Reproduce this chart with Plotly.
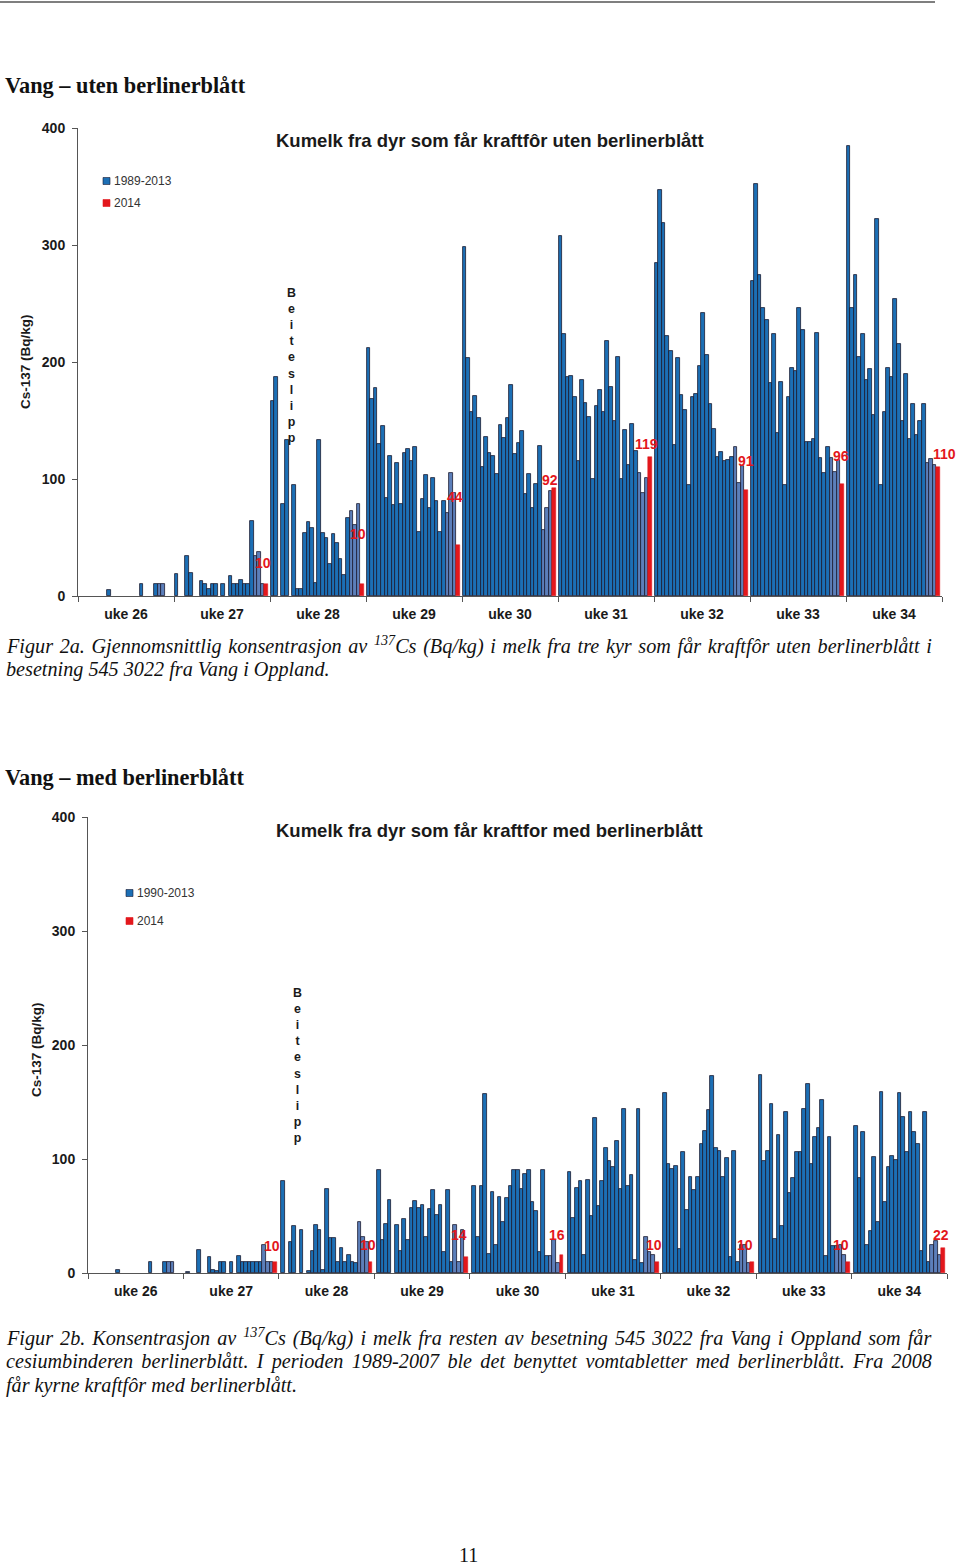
import plotly.graph_objects as go

N = None
weeks = ["uke 26", "uke 27", "uke 28", "uke 29", "uke 30", "uke 31", "uke 32", "uke 33", "uke 34"]

# ---- Chart A: uten berlinerblått, years 1989-2013 + 2014 (26 per week) ----
years_a = list(range(1989, 2014)) + [2014]
a_u26 = [N,N,N,N,N,N,N,N,5,N,N,N,N,N,N,N,N,10,N,N,N,10,10,10,N,N]
a_u27 = [19,N,N,34,20,N,N,13,10,6,10,10,N,10,N,17,10,10,14,10,10,64,34,38,10,10]
a_u28 = [167,187,N,79,133,N,95,6,6,54,63,58,11,133,54,50,27,53,45,32,18,67,73,61,79,10]
a_u29 = [212,168,178,130,145,84,120,78,114,79,122,126,115,127,55,83,103,75,101,81,55,81,71,105,88,44]
a_u30 = [298,203,157,171,152,110,136,122,120,104,146,135,152,180,121,131,141,87,104,75,96,128,56,75,90,92]
a_u31 = [308,224,187,188,170,115,185,165,153,100,162,176,157,218,179,150,204,100,142,112,147,124,105,88,101,119]
a_u32 = [285,347,319,222,209,129,203,172,159,95,170,173,197,242,206,164,143,119,123,115,116,119,127,97,111,91]
a_u33 = [269,352,274,246,236,182,224,139,183,95,170,195,192,246,227,132,132,134,225,118,105,127,118,106,116,96]
a_u34 = [385,246,274,204,224,185,194,155,322,95,157,195,187,254,215,150,190,134,164,138,150,164,114,117,112,110]
chart_a = [a_u26, a_u27, a_u28, a_u29, a_u30, a_u31, a_u32, a_u33, a_u34]
labels_a = ["10", "10", "44", "92", "119", "91", "96", "110"]          # 2014 labels, uke 27-34

# ---- Chart B: med berlinerblått, years 1990-2013 + 2014 (25 per week) ----
years_b = list(range(1990, 2014)) + [2014]
b_u26 = [N,N,N,N,N,N,N,3,N,N,N,N,N,N,N,N,10,N,N,N,10,10,10,N,N]
b_u27 = [1,N,N,20,N,N,14,3,2,10,10,N,10,N,15,10,10,10,10,10,10,25,10,10,10]
b_u28 = [81,N,27,41,N,38,N,2,19,42,38,3,74,31,31,10,22,10,16,10,9,45,32,27,10]
b_u29 = [90,29,43,64,N,42,19,47,29,57,63,57,60,32,56,73,51,60,18,73,10,42,10,38,14]
b_u30 = [76,32,76,157,17,71,25,67,45,66,76,90,90,74,87,90,62,54,18,90,15,15,29,9,16]
b_u31 = [89,48,75,81,16,82,50,136,59,81,110,98,93,116,74,144,76,86,11,144,9,32,18,16,10]
b_u32 = [158,96,91,94,21,106,55,84,73,84,113,125,143,173,110,107,84,101,14,107,10,25,25,9,10]
b_u33 = [174,98,107,148,30,121,41,141,70,83,106,106,144,166,96,119,127,152,15,119,24,24,25,16,10]
b_u34 = [129,83,124,25,37,102,45,159,62,93,103,99,158,137,106,141,124,113,19,141,10,25,28,16,22]
chart_b = [b_u26, b_u27, b_u28, b_u29, b_u30, b_u31, b_u32, b_u33, b_u34]
labels_b = ["10", "10", "14", "16", "10", "10", "10", "22"]

# ---- styling ----
DARK = "#1C6FB5"
LIGHT = "#5C7FBA"
RED = "#E3171C"
EDGE = "#1A1A30"
AX = "#555555"
SANS = "Liberation Sans"
SERIF = "Liberation Serif"
W_A, OFF_A = 26.75, 0.2
W_B, OFF_B = 26.25, 0.7
H = 1565.0


def py(p):
    return 1 - p / H


def build(vals_by_week, years, W, OFF):
    hx, hy, hc, rx, ry = [], [], [], [], []
    for w, vals in enumerate(vals_by_week):
        for s, (yr, v) in enumerate(zip(years, vals)):
            if v is None:
                continue
            x = w * W + OFF + s + 0.5
            if yr == 2014:
                rx.append(x); ry.append(v)
            else:
                hx.append(x); hy.append(v)
                hc.append(LIGHT if yr >= 2011 else DARK)
    return hx, hy, hc, rx, ry


fig = go.Figure()

for (vals, years, W, OFF, xa, ya, hname) in [
    (chart_a, years_a, W_A, OFF_A, "x", "y", "1989-2013"),
    (chart_b, years_b, W_B, OFF_B, "x2", "y2", "1990-2013"),
]:
    hx, hy, hc, rx, ry = build(vals, years, W, OFF)
    fig.add_trace(go.Bar(x=hx, y=hy, width=1, name=hname, xaxis=xa, yaxis=ya,
                         marker=dict(color=hc, line=dict(color=EDGE, width=0.8)),
                         showlegend=False))
    fig.add_trace(go.Bar(x=rx, y=ry, width=1, name="2014", xaxis=xa, yaxis=ya,
                         marker=dict(color=RED, line=dict(color=RED, width=0.5)),
                         showlegend=False))


def xaxis_cfg(domain, W):
    return dict(domain=domain, range=[0, 9 * W], showline=True, linecolor=AX, linewidth=1,
                tickvals=[w * W + W / 2 for w in range(9)], ticktext=weeks, ticks="",
                tickfont=dict(family=SANS, size=14, color="#1a1a1a", weight="bold"),
                ticklabelstandoff=5,
                minor=dict(tickvals=[w * W for w in range(10)], ticks="outside",
                           ticklen=5, tickcolor=AX, tickwidth=1),
                showgrid=False, zeroline=False, fixedrange=True)


def yaxis_cfg(domain):
    return dict(domain=domain, range=[0, 400], tickvals=[0, 100, 200, 300, 400],
                ticks="outside", ticklen=5, tickcolor=AX, showline=True, linecolor=AX,
                linewidth=1, tickfont=dict(family=SANS, size=14, color="#1a1a1a", weight="bold"),
                ticklabelstandoff=4, showgrid=False, zeroline=False, fixedrange=True)


fig.update_layout(
    width=960, height=1565, margin=dict(l=0, r=0, t=0, b=0, pad=0, autoexpand=False),
    paper_bgcolor="white", plot_bgcolor="white", barmode="overlay", bargap=0,
    xaxis=xaxis_cfg([78 / 960, 942 / 960], W_A),
    yaxis=yaxis_cfg([py(596), py(128)]),
    xaxis2=xaxis_cfg([88 / 960, 947 / 960], W_B),
    yaxis2=yaxis_cfg([py(1273), py(817)]),
)
fig.update_layout(xaxis2=dict(anchor="y2"), yaxis2=dict(anchor="x2"))

ann = []


def txt(x, y, text, size, family=SANS, color="#1a1a1a", bold=False, italic=False,
        xanchor="left", yanchor="middle", angle=0):
    ann.append(dict(x=x / 960, y=py(y), xref="paper", yref="paper", text=text,
                    showarrow=False, xanchor=xanchor, yanchor=yanchor, textangle=angle,
                    font=dict(family=family, size=size, color=color,
                              weight="bold" if bold else "normal",
                              style="italic" if italic else "normal")))


CAP = 20.2


def jline(x, y, line, extra_per_gap):
    # justified caption line: widen each inter-word space (a space is 0.25 em in this serif face)
    sp = CAP * (1 + extra_per_gap / (0.25 * CAP))
    text = ('<span style="font-size:%.1fpx"> </span>' % sp).join(line.split(" "))
    txt(x, y - 0.32 * (sp - CAP), text, CAP, SERIF, "#111", italic=True)


# page text
txt(3, 86, "Vang – uten berlinerblått", 22.3, SERIF, "#111", bold=True)
txt(3, 777, "Vang – med berlinerblått", 22.3, SERIF, "#111", bold=True)
jline(4, 646, "Figur 2a. Gjennomsnittlig konsentrasjon av <sup>137</sup>Cs (Bq/kg) i melk fra tre kyr som får kraftfôr uten berlinerblått i", 1.6)
txt(4, 669, "besetning 545 3022 fra Vang i Oppland.", CAP, SERIF, "#111", italic=True)
jline(4, 1338, "Figur 2b. Konsentrasjon av <sup>137</sup>Cs (Bq/kg) i melk fra resten av besetning 545 3022 fra Vang i Oppland som får", 2.0)
jline(4, 1361, "cesiumbinderen berlinerblått. I perioden 1989-2007 ble det benyttet vomtabletter med berlinerblått. Fra 2008", 3.2)
txt(4, 1385, "får kyrne kraftfôr med berlinerblått.", CAP, SERIF, "#111", italic=True)
txt(468, 1555, "11", 20, SERIF, "#111", xanchor="center")

# chart titles
txt(490, 140, "Kumelk fra dyr som får kraftfôr uten berlinerblått", 18.5, SANS, "#1a1a1a", bold=True, xanchor="center")
txt(489, 831, "Kumelk fra dyr som får kraftfor med berlinerblått", 18.5, SANS, "#1a1a1a", bold=True, xanchor="center")

# y titles
txt(25, 362, "Cs-137 (Bq/kg)", 13.5, SANS, "#1a1a1a", bold=True, xanchor="center", angle=-90)
txt(36, 1050, "Cs-137 (Bq/kg)", 13.5, SANS, "#1a1a1a", bold=True, xanchor="center", angle=-90)

# Beiteslipp
beite = "<br>".join(list("Beiteslipp"))
txt(291, 284, beite, 12.4, SANS, "#1a1a1a", bold=True, xanchor="center", yanchor="top")
txt(297, 984, beite, 12.4, SANS, "#1a1a1a", bold=True, xanchor="center", yanchor="top")

# legends
shapes = []
for (lx, ly, label, col) in [(103, 181, "1989-2013", DARK), (103, 203, "2014", RED),
                             (126, 893, "1990-2013", DARK), (126, 921, "2014", RED)]:
    shapes.append(dict(type="rect", xref="paper", yref="paper", x0=lx / 960, x1=(lx + 7) / 960,
                       y0=py(ly + 3.5), y1=py(ly - 3.5), fillcolor=col,
                       line=dict(color=EDGE if col == DARK else col, width=0.6)))
    txt(lx + 9, ly, label, 12, SANS, "#333333")

# top rule
shapes.append(dict(type="line", xref="paper", yref="paper", x0=0, x1=935 / 960,
                   y0=py(2), y1=py(2), line=dict(color="#555", width=1.5)))

# 2014 value labels (placed above red bars as in the original)
lab_y_a = [28, 53, 85, 99, 130, 115, 120, 121]
lab_dx_a = [-3, -4, -3, -4, -4, 0, -1, 6]
lab_y_b = [24, 25, 33, 33, 25, 25, 25, 33]
lab_dx_b = [-3, -3, -7, -4, -3, -7, -7, -2]
for (labels, ly, ldx, W, OFF, nslots, xr, yr) in [
    (labels_a, lab_y_a, lab_dx_a, W_A, OFF_A, 26, "x", "y"),
    (labels_b, lab_y_b, lab_dx_b, W_B, OFF_B, 25, "x2", "y2"),
]:
    for i, lab in enumerate(labels):
        w = i + 1
        xc = w * W + OFF + (nslots - 1) + 0.5
        ann.append(dict(x=xc, y=ly[i], xref=xr, yref=yr, text=lab, showarrow=False,
                        xshift=ldx[i], xanchor="center", yanchor="middle",
                        font=dict(family=SANS, size=14, color=RED, weight="bold")))

fig.update_layout(annotations=ann, shapes=shapes)
fig.write_html("out.html", config={"displayModeBar": False},
               post_script="document.body.style.margin='0px';")
